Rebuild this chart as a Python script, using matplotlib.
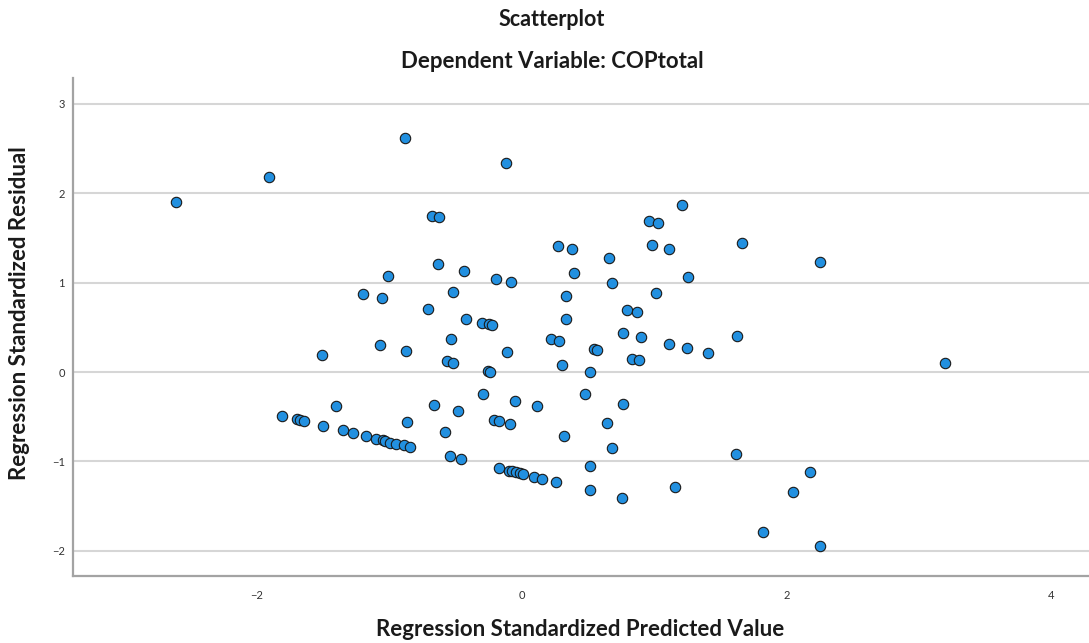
import matplotlib
matplotlib.use('Agg')
import matplotlib.pyplot as plt

pred_std = [
    -2.605, -1.908, -1.200, -0.879, -0.117, -0.678, -0.623, 0.275, 0.384, 0.660,
    -0.633, -0.434, -1.010, -0.190, -0.079, 0.396, 0.683, -1.050, -0.517, 0.338,
    -0.708, 1.209, 0.962, 1.033, 0.983, 1.113, 1.664, 2.253, 1.259, 1.015,
    0.799, 0.874, -0.419, -0.296, -0.245, -0.220, 0.338, -1.066, -0.872, -0.532,
    -0.565, -0.515, -0.109, 0.223, 0.283, 0.308, 0.547, 0.572, 0.764, 0.902,
    0.836, 0.889, 0.519, -0.255, -0.235, -1.400, -1.350, -1.274, -1.174, -1.098,
    -1.048, -1.030, -0.992, -0.947, -0.887, -0.842, -0.862, -0.658, -0.479, -0.577,
    -0.537, -0.459, -0.288, -0.205, -0.170, -0.089, -0.047, 0.117, 0.318, 0.479,
    0.643, 0.766, 0.683, 0.519, 0.519, 0.756, -0.172, -0.097, -0.072, -0.044,
    -0.011, 0.014, 0.092, 0.155, 0.258, -1.503, -1.805, -1.697, -1.672, -1.639,
    -1.496, 1.621, 1.156, 2.180, 2.052, 1.825, 2.253, 1.111, 1.251, 1.408,
    1.629, 3.196,
]
resid_std = [
    1.905, 2.185, 0.874, 2.614, 2.341, 1.749, 1.734, 1.409, 1.372, 1.271,
    1.205, 1.130, 1.074, 1.044, 1.007, 1.104, 0.999, 0.824, 0.898, 0.854,
    0.701, 1.868, 1.693, 1.670, 1.421, 1.372, 1.447, 1.234, 1.059, 0.880,
    0.694, 0.668, 0.596, 0.551, 0.537, 0.526, 0.593, 0.302, 0.235, 0.373,
    0.123, 0.104, 0.224, 0.369, 0.347, 0.075, 0.257, 0.246, 0.440, 0.388,
    0.149, 0.131, 0.000, 0.011, 0.003, -0.377, -0.649, -0.686, -0.716, -0.746,
    -0.764, -0.775, -0.791, -0.805, -0.820, -0.835, -0.563, -0.373, -0.436, -0.671,
    -0.943, -0.973, -0.243, -0.533, -0.545, -0.578, -0.324, -0.384, -0.720, -0.250,
    -0.574, -0.354, -0.850, -1.055, -1.323, -1.406, -1.077, -1.104, -1.111, -1.122,
    -1.133, -1.144, -1.171, -1.197, -1.230, 0.194, -0.496, -0.529, -0.537, -0.552,
    -0.604, -0.921, -1.286, -1.122, -1.342, -1.790, -1.943, 0.317, 0.265, 0.213,
    0.399, 0.104,
]
x_ticks = [-2, 0, 2, 4]
y_ticks = [-2, -1, 0, 1, 2, 3]

plt.rcParams['font.family'] = ['Lato', 'DejaVu Sans']

fig = plt.figure(figsize=(10.89, 6.43), dpi=100)
ax = fig.add_axes([73 / 1089, 67 / 643, 1016 / 1089, 498 / 643])

ax.scatter(pred_std, resid_std, s=56, color='#2290e0', edgecolor='#1a1a1a',
           linewidth=0.8, zorder=3)

ax.set_xlim(-3.385, 4.283)
ax.set_ylim(-2.282, 3.289)
ax.set_xticks(x_ticks)
ax.set_yticks(y_ticks)
ax.tick_params(length=0, labelsize=8, colors='#333333')
ax.tick_params(axis='x', pad=10)
ax.tick_params(axis='y', pad=6)

ax.grid(axis='y', color='#d6d6d6', linewidth=1.5, zorder=1)
for side in ['top', 'right']:
    ax.spines[side].set_visible(False)
for side in ['left', 'bottom']:
    ax.spines[side].set_color('#a3a3a3')
    ax.spines[side].set_linewidth(1.6)

# titles and axis labels placed as in the SPSS output
fig.text(552 / 1089, 1 - 19 / 643, 'Scatterplot', ha='center', va='center',
         fontsize=15.5, fontweight='bold', color='#1a1a1a')
fig.text(552 / 1089, 1 - 61 / 643, 'Dependent Variable: COPtotal', ha='center',
         va='center', fontsize=16, fontweight='bold', color='#1a1a1a')
fig.text(580 / 1089, 1 - 629 / 643, 'Regression Standardized Predicted Value',
         ha='center', va='center', fontsize=16, fontweight='bold', color='#1a1a1a')
fig.text(20 / 1089, 1 - 313 / 643, 'Regression Standardized Residual',
         ha='center', va='center', rotation=90, fontsize=16, fontweight='bold',
         color='#1a1a1a')

fig.savefig('out.png', dpi=100)
